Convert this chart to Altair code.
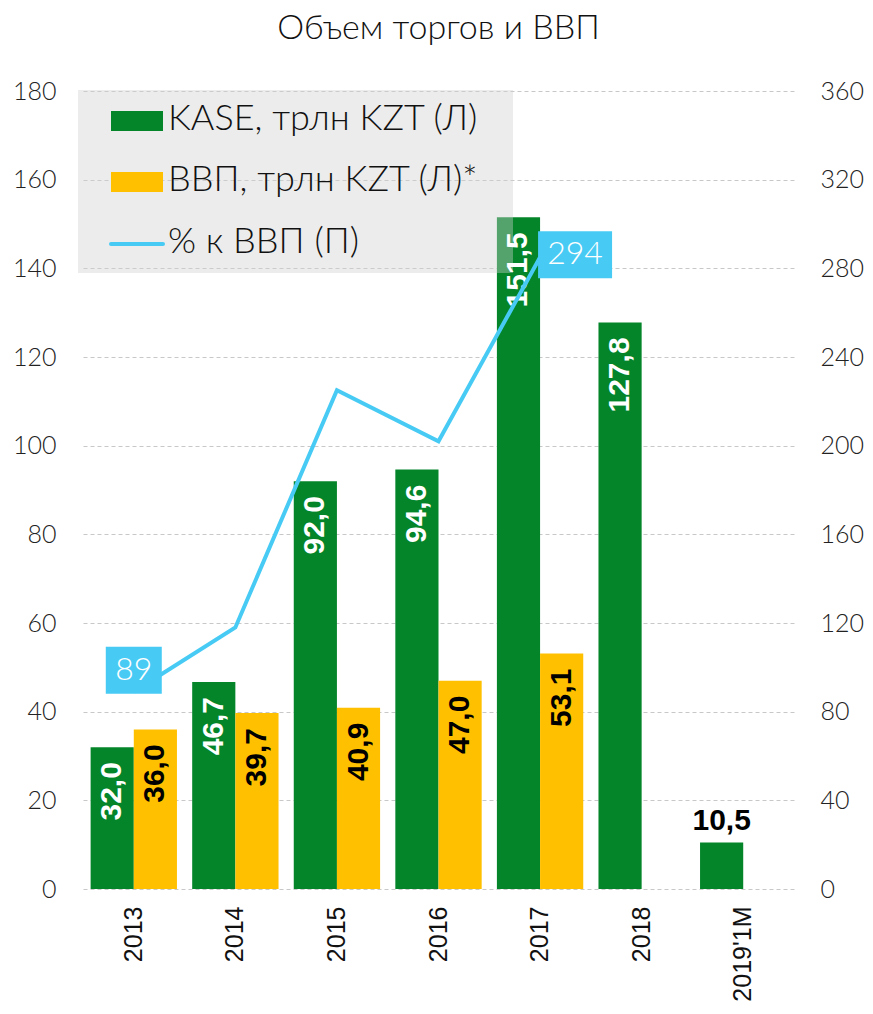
import altair as alt
import pandas as pd

# ---------------- data ----------------
years = ["2013", "2014", "2015", "2016", "2017", "2018", "2019'1M"]
kase = [32.0, 46.7, 92.0, 94.6, 151.5, 127.8, 10.5]
gdp = [36.0, 39.7, 40.9, 47.0, 53.1, None, None]
pct = [89, 118, 225, 202, 285, None, None]
pct_labels = ["89", "", "", "", "294", "", ""]
series_keys = ["KASE", "ВВП"]
legend_names = ["KASE, трлн KZT (Л)", "ВВП, трлн KZT (Л)*", "% к ВВП (П)"]
left_ticks = [0, 20, 40, 60, 80, 100, 120, 140, 160, 180]
right_ticks = [0, 40, 80, 120, 160, 200, 240, 280, 320, 360]
title_text = "Объем торгов и ВВП"

GREEN = "#04852A"
YELLOW = "#FFC000"
BLUE = "#47CBF5"
FONT = "Lato"


def fmt(v):
    return f"{v:.1f}".replace(".", ",")


rows = []
for i, y in enumerate(years):
    for key, vals in zip(series_keys, [kase, gdp]):
        v = vals[i]
        if v is None:
            continue
        rows.append({"year": y, "s": key, "v": v, "lab": fmt(v),
                     "above": y == "2019'1M"})
bars_df = pd.DataFrame(rows)

line_df = pd.DataFrame({"year": years, "p": pct, "pl": pct_labels})
line_df = line_df.dropna(subset=["p"])

one = pd.DataFrame({"a": [0]})

# ---------------- encodings ----------------
x_enc = alt.X(
    "year:N",
    scale=alt.Scale(domain=years, paddingInner=0.15, paddingOuter=0.075),
    axis=alt.Axis(title=None, labelAngle=270, labelAlign="right", labelBaseline="middle",
                  labelFont="Liberation Sans", labelFontSize=25, labelColor="#111111",
                  labelPadding=17, ticks=False, tickSize=0, domain=False, grid=False),
)
xoff = alt.XOffset("s:N", scale=alt.Scale(domain=series_keys, paddingInner=0, paddingOuter=0))

y_left = alt.Y(
    "v:Q",
    scale=alt.Scale(domain=[0, 180], nice=False),
    axis=alt.Axis(title=None, values=left_ticks, domain=False, ticks=False, tickSize=0,
                  labelPadding=27, labelFont=FONT, labelFontSize=25, labelFontWeight=300,
                  labelColor="#222222", grid=True, gridDash=[4, 3], gridColor="#C8C8C8",
                  gridWidth=1),
)
y_right = alt.Y(
    "p:Q",
    scale=alt.Scale(domain=[0, 360], nice=False),
    axis=alt.Axis(title=None, orient="right", values=right_ticks, domain=False, ticks=False,
                  tickSize=0, labelPadding=26, labelFont=FONT, labelFontSize=25,
                  labelFontWeight=300, labelColor="#222222", grid=False),
)

base = alt.Chart(bars_df)

bars = base.mark_bar().encode(
    x=x_enc, xOffset=xoff, y=y_left,
    color=alt.Color("s:N", scale=alt.Scale(domain=series_keys, range=[GREEN, YELLOW]), legend=None),
)

legend_box = alt.Chart(one).mark_rect(color="#CFCFCF", opacity=0.4).encode(
    x=alt.value(-5), x2=alt.value(430), y=alt.value(-1), y2=alt.value(182)
)

lab_common = dict(angle=270, align="right", baseline="middle", dx=-15,
                  font="Liberation Sans", fontSize=30, fontWeight="bold")

lab_green = base.transform_filter(
    (alt.datum.s == "KASE") & (alt.datum.above == False)
).mark_text(color="white", **lab_common).encode(x=x_enc, xOffset=xoff, y=y_left, text="lab:N")

lab_yellow = base.transform_filter(
    alt.datum.s == "ВВП"
).mark_text(color="black", **lab_common).encode(x=x_enc, xOffset=xoff, y=y_left, text="lab:N")

lab_top = base.transform_filter(
    alt.datum.above == True
).mark_text(color="black", baseline="bottom", dy=-6, font="Liberation Sans",
            fontSize=30, fontWeight="bold").encode(x=x_enc, xOffset=xoff, y=y_left, text="lab:N")

left_group = alt.layer(bars, legend_box, lab_green, lab_yellow, lab_top)

lbase = alt.Chart(line_df)
line = lbase.mark_line(color=BLUE, strokeWidth=4, strokeJoin="miter").encode(x=x_enc, y=y_right)

box1 = lbase.transform_filter(alt.datum.pl == "89").mark_point(
    shape="M-1,-1.607L1,-1.607L1,0.071L-1,0.071Z", size=3136, filled=True,
    fill=BLUE, opacity=1, strokeWidth=0
).encode(x=x_enc, y=y_right)
box2 = lbase.transform_filter(alt.datum.pl == "294").mark_point(
    shape="M-0.054,-0.703L1.946,-0.703L1.946,0.568L-0.054,0.568Z", size=5476, filled=True,
    fill=BLUE, opacity=1, strokeWidth=0
).encode(x=x_enc, y=y_right)

t1 = lbase.transform_filter(alt.datum.pl == "89").mark_text(
    color="white", font=FONT, fontSize=32, fontWeight=300, align="center", baseline="middle", dy=-22
).encode(x=x_enc, y=y_right, text="pl:N")
t2 = lbase.transform_filter(alt.datum.pl == "294").mark_text(
    color="white", font=FONT, fontSize=32, fontWeight=300, align="center", baseline="middle",
    dx=35, dy=-3
).encode(x=x_enc, y=y_right, text="pl:N")

right_group = alt.layer(line, box1, box2, t1, t2)

# ---------------- legend (drawn) ----------------
sym_green = alt.Chart(one).mark_rect(color=GREEN).encode(
    x=alt.value(28), x2=alt.value(80), y=alt.value(20), y2=alt.value(40))
sym_yellow = alt.Chart(one).mark_rect(color=YELLOW).encode(
    x=alt.value(28), x2=alt.value(80), y=alt.value(81), y2=alt.value(101))
sym_line = alt.Chart(one).mark_rule(color=BLUE, strokeWidth=4, strokeCap="round").encode(
    x=alt.value(28), x2=alt.value(80), y=alt.value(153))

leg_texts = []
for name, ypos in zip(legend_names, [28, 89, 151]):
    leg_texts.append(
        alt.Chart(pd.DataFrame({"name": [name]})).mark_text(
            align="left", baseline="middle", font=FONT, fontSize=36, fontWeight=300, color="#111111"
        ).encode(x=alt.value(85), y=alt.value(ypos), text="name:N")
    )

chart = alt.layer(
    left_group, right_group, sym_green, sym_yellow, sym_line, *leg_texts
).resolve_scale(y="independent").properties(
    width=711, height=798,
    title=alt.TitleParams(title_text, font=FONT, fontSize=34, fontWeight=300, color="#111111",
                          anchor="middle", offset=33),
    padding={"left": 4, "top": 4, "right": 0, "bottom": 0},
).configure_view(stroke=None)

chart.save("out.html", embed_options={"renderer": "svg", "actions": False})
